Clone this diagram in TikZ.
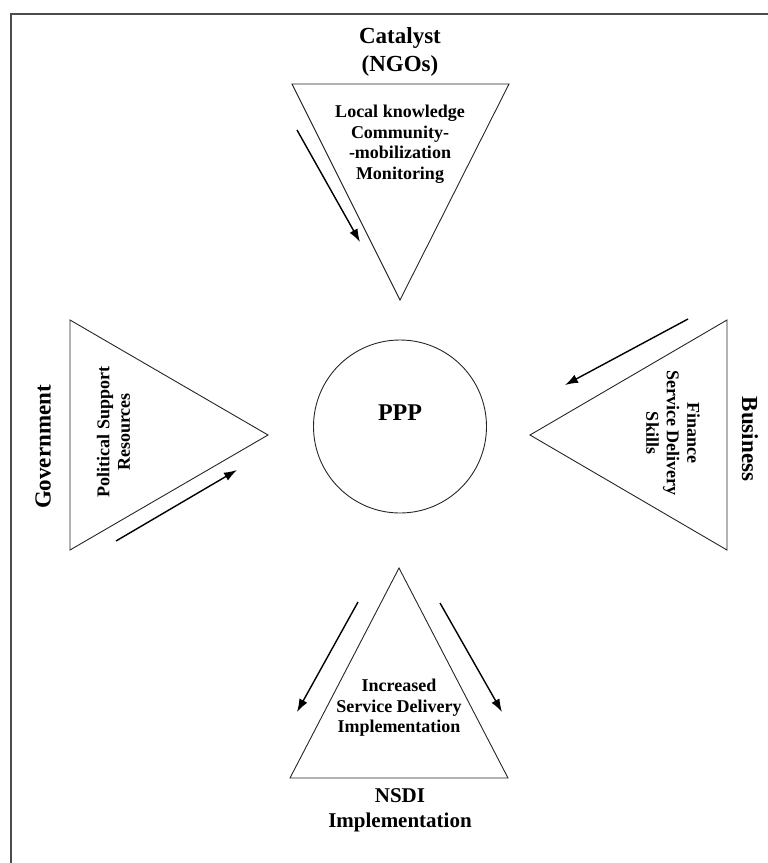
\documentclass[tikz,border=0pt]{standalone}
\usepackage{fontspec}
\setmainfont{Liberation Serif}
\usetikzlibrary{arrows.meta}
\begin{document}
\begin{tikzpicture}[x=1pt,y=-1pt,
  shapeedge/.style={draw=black!85, line width=0.9pt, line join=miter},
  flow/.style={draw=black, line width=1.4pt, -{Latex[length=13pt,width=9pt]}},
  actor/.style={font=\fontsize{23}{28}\selectfont\bfseries, align=center, inner sep=0pt},
  role/.style={font=\fontsize{18}{20.5}\selectfont\bfseries, align=center, inner sep=0pt},
  frameline/.style={draw=black!70, line width=1.6pt}]
\useasboundingbox (0,0) rectangle (768,863);

% outer frame (top and left edges)
\coordinate (fbl) at (11,863);
\coordinate (ftl) at (11,14);
\coordinate (ftr) at (768,14);
\draw[frameline] (fbl) -- (ftl) -- (ftr);

% corner points of the four triangles
\coordinate (ta) at (292,84);  \coordinate (tb) at (509,84);  \coordinate (tc) at (400,300);
\coordinate (la) at (70,320);  \coordinate (lb) at (70,550);  \coordinate (lc) at (268,435);
\coordinate (ra) at (727,320); \coordinate (rb) at (727,550); \coordinate (rc) at (530,435);
\coordinate (ba) at (399,568); \coordinate (bb) at (290,778); \coordinate (bc) at (508,778);

\draw[shapeedge] (ta) -- (tb) -- (tc) -- cycle;
\draw[shapeedge] (la) -- (lc) -- (lb) -- cycle;
\draw[shapeedge] (ra) -- (rc) -- (rb) -- cycle;
\draw[shapeedge] (ba) -- (bc) -- (bb) -- cycle;

% central partnership circle
\node[circle, draw=black!85, line width=0.9pt, minimum size=173pt, inner sep=0pt] (ppp) at (400,426.5) {};
\node[font=\fontsize{24}{28}\selectfont\bfseries, inner sep=0pt] (ppptext) at (400,413) {PPP};

% partner labels
\node[actor] (catalyst) at (400,52) {Catalyst\\(NGOs)};
\node[actor, rotate=90] (gov) at (43,447) {Government};
\node[actor, rotate=-90] (biz) at (750,439) {Business};
\node[actor, font=\fontsize{21}{25}\selectfont\bfseries] (nsdi) at (400,810) {NSDI\\Implementation};

% contributions of each partner
\node[role] (ngorole) at (400,144) {Local knowledge\\Community-\\-mobilization\\Monitoring};
\node[role, rotate=90] (govrole) at (113.5,432) {Political Support\\Resources};
\node[role, rotate=-90] (bizrole) at (673,433) {Finance\\Service Delivery\\Skills};
\node[role] (nsdirole) at (399,708) {Increased\\Service Delivery\\Implementation};

% flow arrows
\coordinate (a1s) at (297,130); \coordinate (a1e) at (360,242);
\coordinate (a2s) at (116,541); \coordinate (a2e) at (237,470);
\coordinate (a3s) at (688,319); \coordinate (a3e) at (565,385);
\coordinate (a4s) at (358,602); \coordinate (a4e) at (297,712);
\coordinate (a5s) at (440,603); \coordinate (a5e) at (502,712);
\draw[flow] (a1s) -- (a1e);
\draw[flow] (a2s) -- (a2e);
\draw[flow] (a3s) -- (a3e);
\draw[flow] (a4s) -- (a4e);
\draw[flow] (a5s) -- (a5e);
\end{tikzpicture}
\end{document}
